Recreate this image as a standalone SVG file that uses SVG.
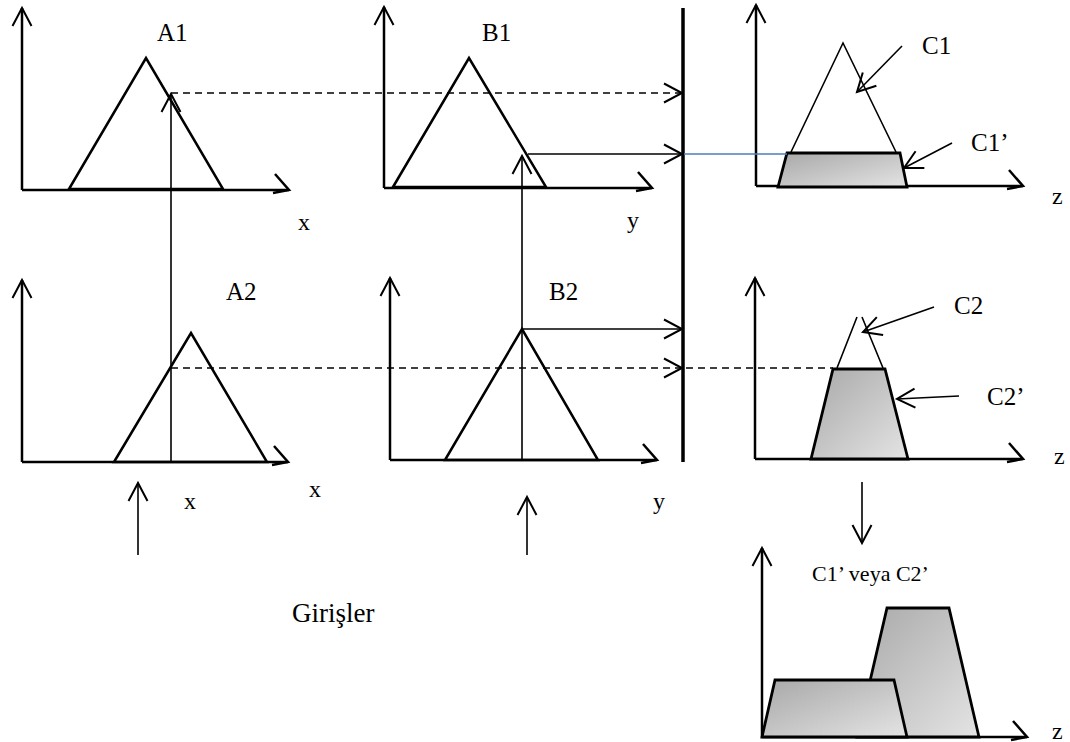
<svg xmlns="http://www.w3.org/2000/svg" width="1070" height="742" viewBox="0 0 1070 742">
<style>
text{font-family:"Liberation Serif","Times New Roman",serif;fill:#000}
.lbl{font-size:25px}
.ax{font-size:24px}
.axis{fill:none;stroke:#000;stroke-width:2.5}
.tri{fill:none;stroke:#000;stroke-width:2.5;stroke-linejoin:miter}
.thin{fill:none;stroke:#000;stroke-width:1.6}
.dash{fill:none;stroke:#000;stroke-width:1.6;stroke-dasharray:7 5}
.trap{fill:url(#g);stroke:#000;stroke-width:2.8;stroke-linejoin:miter}
</style>
<defs>
<linearGradient id="g" x1="0" y1="0" x2="1" y2="1">
<stop offset="0" stop-color="#a8a8a8"/>
<stop offset="1" stop-color="#e4e4e4"/>
</linearGradient>
<marker id="ah" markerUnits="userSpaceOnUse" viewBox="-20 -12 22 24" refX="0" refY="0" markerWidth="22" markerHeight="24" orient="auto" overflow="visible">
<path d="M -18 -9.5 L 0 0 L -18 9.5" fill="none" stroke="#000" stroke-width="2"/>
</marker>
<marker id="ahx" markerUnits="userSpaceOnUse" viewBox="-20 -20 22 26" refX="0" refY="0" markerWidth="22" markerHeight="26" orient="auto" overflow="visible">
<path d="M -14 -16 L 0 0 L -16 3" fill="none" stroke="#000" stroke-width="2.5"/>
</marker>
</defs>

<g id="A1">
<path class="axis" d="M22 190 V8" marker-end="url(#ah)"/>
<path class="axis" d="M22 190 H289" marker-end="url(#ahx)"/>
<polygon class="tri" points="69,189 146,58 223,189"/>
<text class="lbl" x="157" y="41">A1</text>
<text class="ax" x="298" y="230">x</text>
</g>

<g id="B1">
<path class="axis" d="M384 188 V7" marker-end="url(#ah)"/>
<path class="axis" d="M384 188 H652" marker-end="url(#ahx)"/>
<polygon class="tri" points="393,187 469,58 546,187"/>
<text class="lbl" x="482" y="41">B1</text>
<text class="ax" x="627" y="228">y</text>
</g>

<g id="C1">
<path class="axis" d="M756 186 V5" marker-end="url(#ah)"/>
<path class="axis" d="M756 186 H1023" marker-end="url(#ahx)"/>
<polyline class="thin" points="791,152 843,43 896,152"/>
<polygon class="trap" points="787,153 900,153 907,187 778,187"/>
<path class="thin" d="M902 46 L857 92" marker-end="url(#ah)"/>
<path class="thin" d="M952 143 L904 168" marker-end="url(#ah)"/>
<text class="lbl" x="922" y="54">C1</text>
<text class="lbl" x="971" y="151">C1’</text>
<text class="ax" x="1052" y="204">z</text>
</g>

<g id="A2">
<path class="axis" d="M22 462 V280" marker-end="url(#ah)"/>
<path class="axis" d="M22 462 H288" marker-end="url(#ahx)"/>
<polygon class="tri" points="114,462 191,333 267,462"/>
<text class="lbl" x="226" y="300">A2</text>
<text class="ax" x="309" y="497">x</text>
<text class="ax" x="184" y="509">x</text>
</g>

<g id="B2">
<path class="axis" d="M390 460 V278" marker-end="url(#ah)"/>
<path class="axis" d="M390 460 H657" marker-end="url(#ahx)"/>
<polygon class="tri" points="445,460 522,329 598,460"/>
<text class="lbl" x="549" y="300">B2</text>
<text class="ax" x="653" y="509">y</text>
</g>

<g id="C2">
<path class="axis" d="M755 459 V278" marker-end="url(#ah)"/>
<path class="axis" d="M755 459 H1023" marker-end="url(#ahx)"/>
<path class="thin" d="M857 317 L837 368 M862 317 L883 368"/>
<polygon class="trap" points="833,369 885,369 908,459 811,459"/>
<path class="thin" d="M934 307 L863 332" marker-end="url(#ah)"/>
<path class="thin" d="M959 396 L897 399" marker-end="url(#ah)"/>
<text class="lbl" x="954" y="314">C2</text>
<text class="lbl" x="987" y="405">C2’</text>
<text class="ax" x="1054" y="464">z</text>
</g>

<g id="Result">
<path class="axis" d="M762 737 V548" marker-end="url(#ah)"/>
<path class="axis" d="M762 737 H1027" marker-end="url(#ahx)"/>
<polygon class="trap" points="887,608 949,608 979,737 857,737"/>
<polygon class="trap" points="775,680 894,680 907,737 762,737"/>
<text x="812" y="581" style="font-size:22px">C1’ veya C2’</text>
<text class="ax" x="1052" y="739">z</text>
</g>

<g id="Girisler">
<text x="292" y="622" style="font-size:27px">Girişler</text>
</g>

<g id="connectors">
<path d="M683 8 V462" fill="none" stroke="#000" stroke-width="3.5"/>
<path class="thin" d="M171 462 V94" marker-end="url(#ah)"/>
<path class="dash" d="M171 93 H682" marker-end="url(#ah)"/>
<path class="thin" d="M522 460 V156" marker-end="url(#ah)"/>
<path class="thin" d="M528 154 H682" marker-end="url(#ah)"/>
<path d="M684 154 H787" fill="none" stroke="#4a7ebb" stroke-width="1.5"/>
<path class="thin" d="M522 329 H682" marker-end="url(#ah)"/>
<path class="dash" d="M171 368 H682" marker-end="url(#ah)"/>
<path class="dash" d="M686 368 H833"/>
<path class="thin" d="M862 482 V543" marker-end="url(#ah)"/>
<path class="thin" d="M138 555 V483" marker-end="url(#ah)"/>
<path class="thin" d="M527 555 V497" marker-end="url(#ah)"/>
</g>
</svg>
